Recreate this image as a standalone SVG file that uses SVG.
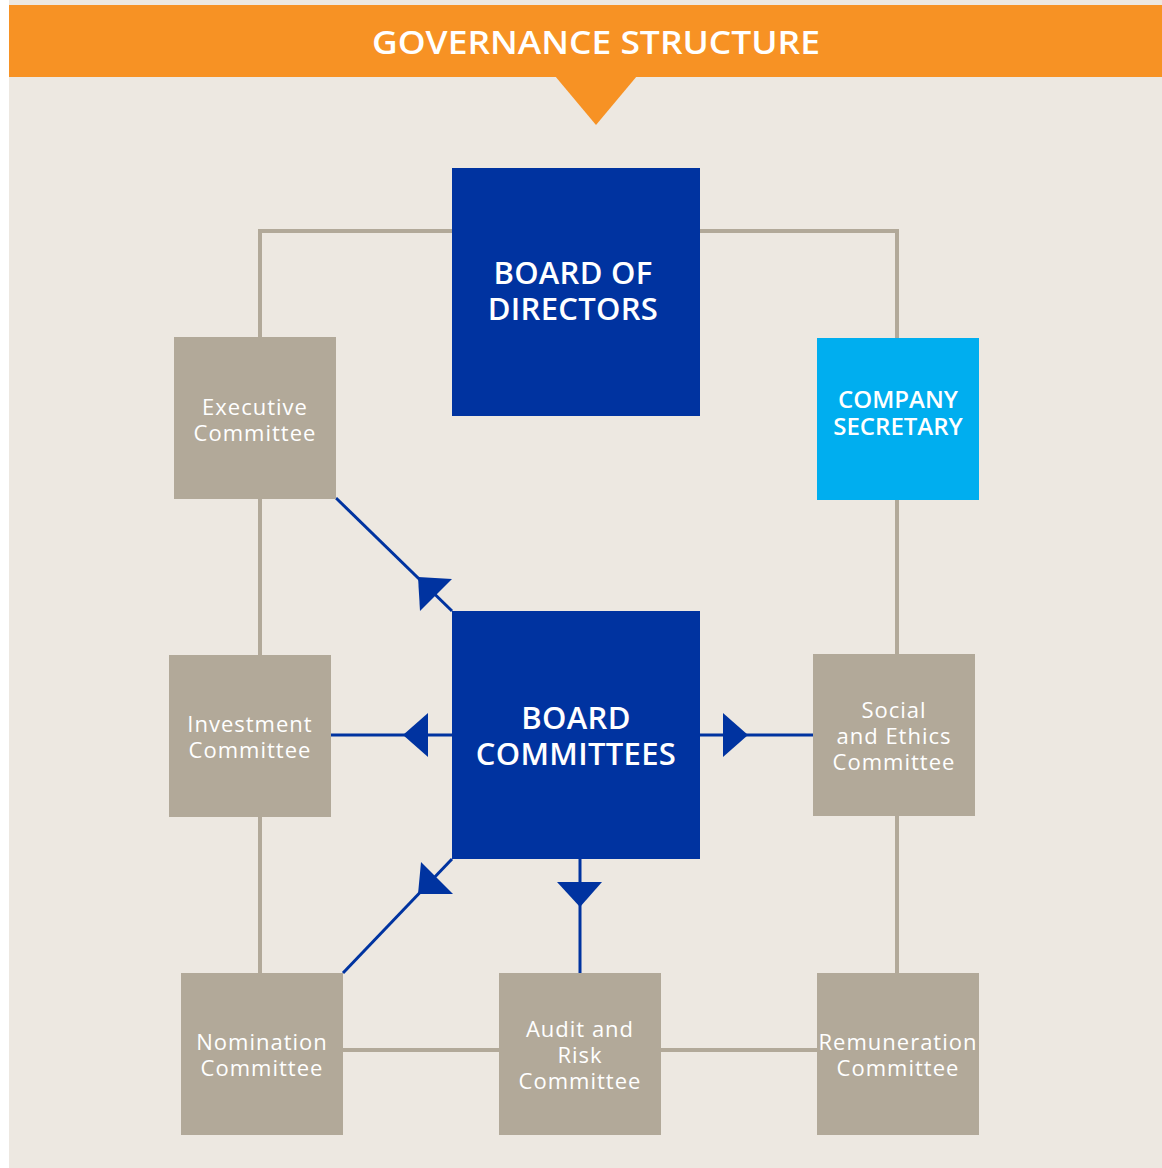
<svg xmlns="http://www.w3.org/2000/svg" width="1162" height="1168" viewBox="0 0 1162 1168">
<style>
.grey{fill:#b2a999}
.navy{fill:#0033a0}
.cyan{fill:#00aeef}
.gl{stroke:#b2a999;stroke-width:4;fill:none}
.bl{stroke:#0033a0;stroke-width:3;fill:none}
.ah{fill:#0033a0}
text{font-family:"Open Sans","DejaVu Sans",sans-serif;fill:#ffffff;text-anchor:middle}
.big{font-size:31px;font-weight:600;letter-spacing:0.3px}
.mid{font-size:24px;font-weight:600}
.sm{font-size:22px;font-weight:400;letter-spacing:1px}
</style>
<rect x="0" y="0" width="1162" height="1168" fill="#ffffff"/>
<rect x="9" y="0" width="1153" height="1168" fill="#ede8e1"/>
<rect x="9" y="5" width="1153" height="72" fill="#f79224"/>
<polygon points="555,76 637,76 596,125" fill="#f79224"/>
<text x="596" y="54" font-size="33" font-weight="600" textLength="448" lengthAdjust="spacingAndGlyphs">GOVERNANCE STRUCTURE</text>

<g id="connectors">
<polyline class="gl" points="452,231 260,231 260,337"/>
<polyline class="gl" points="700,231 897,231 897,338"/>
<line class="gl" x1="260" y1="499" x2="260" y2="655"/>
<line class="gl" x1="260" y1="817" x2="260" y2="973"/>
<line class="gl" x1="897" y1="500" x2="897" y2="654"/>
<line class="gl" x1="897" y1="816" x2="897" y2="973"/>
<line class="gl" x1="343" y1="1050" x2="499" y2="1050"/>
<line class="gl" x1="661" y1="1050" x2="817" y2="1050"/>
<line class="bl" x1="452" y1="611" x2="336" y2="498"/>
<polygon class="ah" points="418,577 452,579 420,611"/>
<line class="bl" x1="452" y1="735" x2="331" y2="735"/>
<polygon class="ah" points="403,735 428,713 428,757"/>
<line class="bl" x1="700" y1="735" x2="813" y2="735"/>
<polygon class="ah" points="748,735 723,713 723,757"/>
<line class="bl" x1="452" y1="859" x2="343" y2="973"/>
<polygon class="ah" points="418,894 421,862 453,894"/>
<line class="bl" x1="580" y1="859" x2="580" y2="973"/>
<polygon class="ah" points="557,882 602,882 580,907"/>
</g>

<g id="board-of-directors">
<rect class="navy" x="452" y="168" width="248" height="248"/>
<text class="big" x="573" y="284">BOARD OF</text>
<text class="big" x="573" y="320">DIRECTORS</text>
</g>
<g id="company-secretary">
<rect class="cyan" x="817" y="338" width="162" height="162"/>
<text class="mid" x="898" y="408">COMPANY</text>
<text class="mid" x="898" y="435">SECRETARY</text>
</g>
<g id="executive-committee">
<rect class="grey" x="174" y="337" width="162" height="162"/>
<text class="sm" x="255" y="415">Executive</text>
<text class="sm" x="255" y="441">Committee</text>
</g>
<g id="board-committees">
<rect class="navy" x="452" y="611" width="248" height="248"/>
<text class="big" x="576" y="729">BOARD</text>
<text class="big" x="576" y="765">COMMITTEES</text>
</g>
<g id="investment-committee">
<rect class="grey" x="169" y="655" width="162" height="162"/>
<text class="sm" x="250" y="732">Investment</text>
<text class="sm" x="250" y="758">Committee</text>
</g>
<g id="social-ethics-committee">
<rect class="grey" x="813" y="654" width="162" height="162"/>
<text class="sm" x="894" y="718">Social</text>
<text class="sm" x="894" y="744">and Ethics</text>
<text class="sm" x="894" y="770">Committee</text>
</g>
<g id="nomination-committee">
<rect class="grey" x="181" y="973" width="162" height="162"/>
<text class="sm" x="262" y="1050">Nomination</text>
<text class="sm" x="262" y="1076">Committee</text>
</g>
<g id="audit-risk-committee">
<rect class="grey" x="499" y="973" width="162" height="162"/>
<text class="sm" x="580" y="1037">Audit and</text>
<text class="sm" x="580" y="1063">Risk</text>
<text class="sm" x="580" y="1089">Committee</text>
</g>
<g id="remuneration-committee">
<rect class="grey" x="817" y="973" width="162" height="162"/>
<text class="sm" x="898" y="1050">Remuneration</text>
<text class="sm" x="898" y="1076">Committee</text>
</g>
</svg>
